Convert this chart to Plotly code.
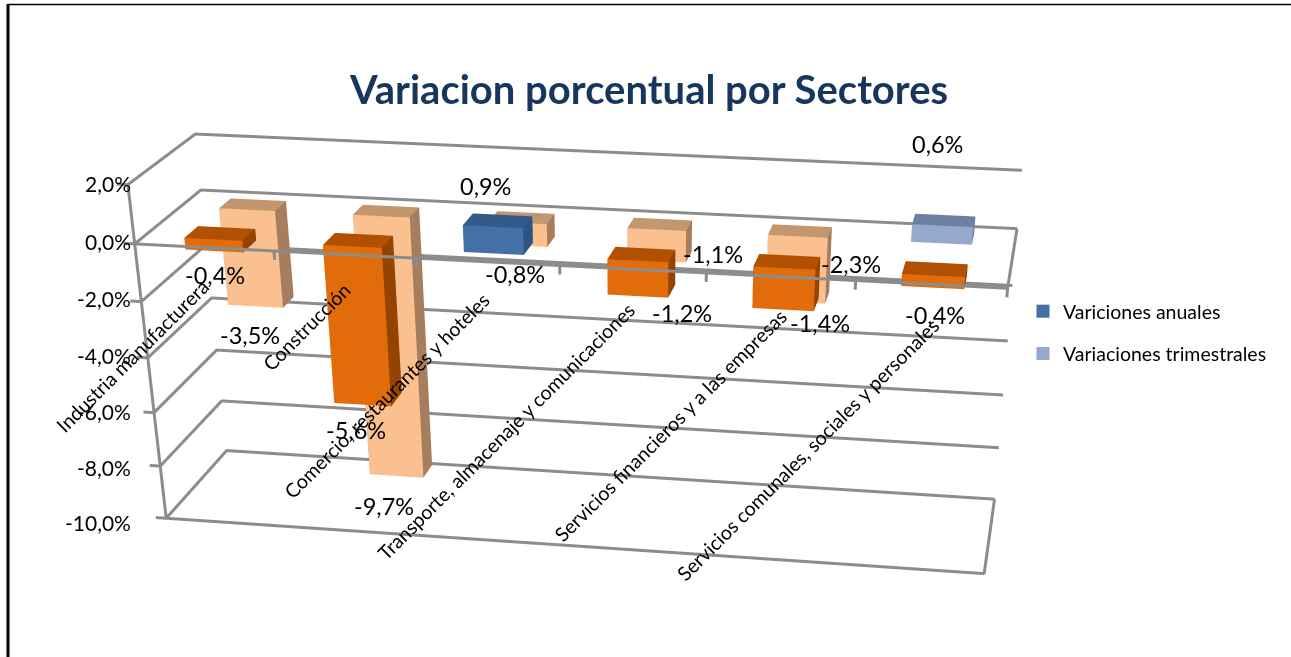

import plotly.graph_objects as go

categories=["Industria manufacturera","Construcción","Comercio, restaurantes y hoteles","Transporte, almacenaje y comunicaciones","Servicios financieros y a las empresas","Servicios comunales, sociales y personales"]
anuales=[-0.4,-5.6,0.9,-1.2,-1.4,-0.4]
trimestrales=[-3.5,-9.7,-0.8,-1.1,-2.3,0.6]
ticks=[2,0,-2,-4,-6,-8,-10]

H=2000; W=1291
eye=dict(x=1.0066,y=-5.0126,z=1.6689); center=dict(x=.2463,y=-.6182,z=-1.2459)
ASP_X,ASP_Y,ASP_Z=1.8,.4262,.7224

def boxes(vals,y0,y1,colors):
    X=[];Y=[];Z=[];I=[];J_=[];K=[];FC=[]
    hw=.21
    for n,v in enumerate(vals):
        x0,x1=n-hw,n+hw
        lo,hi=min(v,0),max(v,0)
        b=len(X)
        for xx,yy,zz in [(x0,y0,lo),(x1,y0,lo),(x1,y1,lo),(x0,y1,lo),(x0,y0,hi),(x1,y0,hi),(x1,y1,hi),(x0,y1,hi)]:
            X.append(xx);Y.append(yy);Z.append(zz)
        c=colors[0] if v>=0 else colors[1]
        faces=[((0,1,5),c[0]),((0,5,4),c[0]),((4,5,6),c[1]),((4,6,7),c[1]),((1,2,6),c[2]),((1,6,5),c[2]),
               ((0,3,7),c[2]),((0,7,4),c[2]),((3,2,6),c[1]),((3,6,7),c[1]),((0,1,2),c[1]),((0,2,3),c[1])]
        for (a,bb,cc),col in faces:
            I.append(b+a);J_.append(b+bb);K.append(b+cc);FC.append(col)
    return X,Y,Z,I,J_,K,FC
L=dict(ambient=1,diffuse=0,specular=0,roughness=1,fresnel=0)
fig=go.Figure()
ca=[("#4470A8","#335A88","#2B5585"),("#E36C0A","#B05000","#954300")]
cq=[("#95A9CF","#6E80A2","#6E80A2"),("#FBC08F","#C2966E","#A67E5E")]
for vals,yb,cc,nm in [(anuales,(.14,.35),ca,"Variciones anuales"),(trimestrales,(.68,.87),cq,"Variaciones trimestrales")]:
    X,Y,Z,I,Jj,K,FC=boxes(vals,yb[0],yb[1],cc)
    fig.add_trace(go.Mesh3d(x=X,y=Y,z=Z,i=I,j=Jj,k=K,facecolor=FC,flatshading=True,lighting=L,hoverinfo="skip",name=nm,showlegend=False))
gx=[];gy=[];gz=[]
def seg(*P):
    for a in P:
        gx.append(a[0]);gy.append(a[1]);gz.append(a[2])
    gx.append(None);gy.append(None);gz.append(None)
for t in ticks:
    seg((-.5,0,t),(-.5,1,t),(5.5,1,t))
    seg((-.58,0,t),(-.5,0,t))
seg((-.5,0,2),(-.5,0,-10))
seg((-.5,0,-10),(5.5,0,-10),(5.5,1,-10))
seg((-.5,0,0),(5.5,0,0),(5.5,1,0))
for n in range(1,7):
    seg((n-.5,0,0),(n-.5,0,-.3))
fig.add_trace(go.Scatter3d(x=gx,y=gy,z=gz,mode="lines",line=dict(color="#8C8C8C",width=6),hoverinfo="skip",showlegend=False))
fig.add_trace(go.Scatter3d(x=[None],y=[None],z=[None],mode="markers",name="Variciones anuales",legendgroup="a",marker=dict(symbol="square",size=13,color="#4470A8")))
fig.add_trace(go.Scatter3d(x=[None],y=[None],z=[None],mode="markers",name="Variaciones trimestrales",legendgroup="b",marker=dict(symbol="square",size=13,color="#95A9CF")))

yp=lambda y:1-y/H
xp=lambda x:x/W
FT="Lato"
ann=[]
def label(t,x,y,size=23.5,angle=0,xanchor="center"):
    ann.append(dict(text=t,x=xp(x),y=yp(y),xref="paper",yref="paper",showarrow=False,xanchor=xanchor,yanchor="middle",textangle=angle,font=dict(family=FT,size=size,color="#000")))
fmt=lambda v:f"{v:.1f}%".replace(".",",")
tick_px=[(133,184),(133,241),(133,299),(133,356),(133,412),(133,467),(133,522)]
for t,(x,y) in zip(ticks,tick_px): label(fmt(t),x,y,21,xanchor="right")
la_px=[(215,275),(356,430),(486,186),(682,313),(820,323),(935,315)]
lt_px=[(250,335),(384,506),(515,274),(713,254),(851,264),(938,144)]
for v,(x,y) in zip(anuales,la_px): label(fmt(v),x,y)
for v,(x,y) in zip(trimestrales,lt_px): label(fmt(v),x,y)
cat_px=[(133,356),(307,327),(387,396),(506,432),(670,425),(808,450)]
for c,(x,y) in zip(categories,cat_px): label(c,x,y,19.6,angle=-45)
ann.append(dict(text="Variacion porcentual por Sectores",x=xp(648),y=yp(89),xref="paper",yref="paper",showarrow=False,xanchor="center",yanchor="middle",font=dict(family=FT,size=40,color="#17365D",weight="bold")))
ax=dict(visible=False,showspikes=False)
fig.update_layout(width=W,height=H,margin=dict(l=0,r=0,t=0,b=0),paper_bgcolor="white",font=dict(family=FT),
 scene=dict(domain=dict(x=[0,1],y=[0,1]),aspectmode="manual",aspectratio=dict(x=ASP_X*6.4/6,y=ASP_Y*1.1,z=ASP_Z*13/12),
  xaxis=dict(range=[-.7,5.7],**ax),yaxis=dict(range=[-.05,1.05],**ax),zaxis=dict(range=[-10.5,2.5],**ax),
  camera=dict(eye=eye,center=center,up=dict(x=0,y=0,z=1))),
 legend=dict(x=xp(1023),y=yp(292),xanchor="left",yanchor="top",traceorder="grouped",tracegroupgap=14,font=dict(family=FT,size=19.5,color="#000"),bgcolor="rgba(0,0,0,0)"),
 annotations=ann,
 shapes=[dict(type="line",xref="paper",yref="paper",x0=xp(8),x1=xp(8),y0=yp(4),y1=yp(660),line=dict(color="black",width=3)),
         dict(type="line",xref="paper",yref="paper",x0=xp(8),x1=1,y0=yp(4.5),y1=yp(4.5),line=dict(color="black",width=1.5))])
fig.write_html("out.html",config={"displayModeBar":False},post_script="document.body.style.margin='0';document.documentElement.style.overflow='hidden';")
